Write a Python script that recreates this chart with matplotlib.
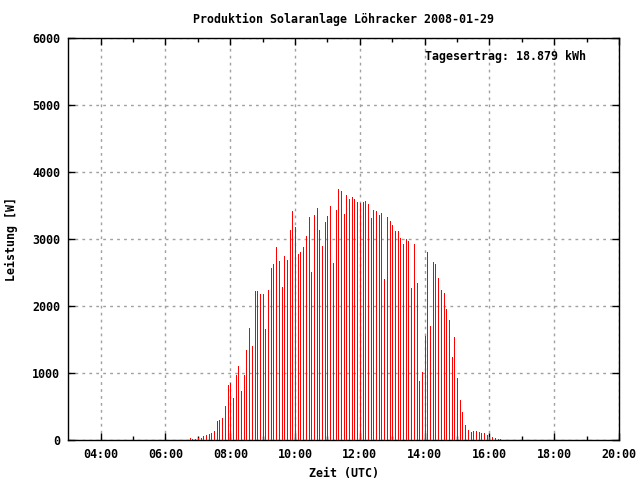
import numpy as np
import matplotlib.pyplot as plt

# Leistung alle 5 Minuten ab 06:45 UTC
start_h = 6.75
schritt_min = 5
leistung = [30, 10, 15, 30, 30, 60, 75, 90, 105, 135,
            285, 300, 330, 510, 820, 845, 625, 970, 1105, 730,
            970, 1345, 1676, 1410, 2224, 2224, 2179, 2179, 1657, 2239,
            2567, 2627, 2881, 2672, 2284, 2746, 2687, 3134, 3418, 3179,
            2776, 2806, 2881, 3045, 3328, 2507, 3358, 3463, 3134, 2896,
            3254, 3343, 3493, 2642, 3433, 3746, 3716, 3373, 3657, 3597,
            3627, 3597, 3552, 3537, 3552, 3567, 3522, 3313, 3433, 3418,
            3358, 3388, 2403, 3328, 3269, 3209, 3119, 3119, 3015, 2925,
            3000, 2970, 2269, 2925, 2343, 880, 1020, 1552, 2806, 1701,
            2657, 2627, 2418, 2239, 2194, 1955, 1791, 1239, 1537, 925,
            600, 420, 220, 150, 120, 135, 135, 120, 110, 100,
            80, 50, 40, 25, 20, 10]
x_ticks = [4, 6, 8, 10, 12, 14, 16, 18, 20]
x_labels = ['04:00', '06:00', '08:00', '10:00', '12:00', '14:00', '16:00', '18:00', '20:00']
y_ticks = [0, 1000, 2000, 3000, 4000, 5000, 6000]

titel = 'Produktion Solaranlage Löhracker 2008-01-29'
ertrag = 'Tagesertrag: 18.879 kWh'

zeit = start_h + np.arange(len(leistung)) * schritt_min / 60.0

plt.rcParams['font.family'] = 'DejaVu Sans Mono'
plt.rcParams['font.weight'] = 'bold'
plt.rcParams['axes.labelweight'] = 'bold'
plt.rcParams['font.size'] = 8.4

fig = plt.figure(figsize=(6.4, 4.8), dpi=100)
ax = fig.add_axes([68.3 / 640, 40 / 480, 550.7 / 640, 402 / 480])

ax.vlines(zeit, 0, leistung, color='#ff0000', lw=0.7, antialiased=False, zorder=3)

ax.set_xlim(3, 20)
ax.set_ylim(0, 6000)
ax.set_xticks(x_ticks)
ax.set_xticklabels(x_labels)
ax.set_xticks([5, 7, 9, 11, 13, 15, 17, 19], minor=True)
ax.set_yticks(y_ticks)
ax.tick_params(which='both', direction='in', top=True, right=True, length=5, width=1, pad=6)
ax.tick_params(which='minor', length=3)
ax.grid(True, which='major', color='#a0a0a0', linestyle=(0, (2, 3)), lw=1, zorder=0)
ax.set_axisbelow(True)
for s in ax.spines.values():
    s.set_linewidth(1)

ax.set_title(titel, fontsize=8.4, fontweight='bold', pad=11)
ax.set_xlabel('Zeit (UTC)', labelpad=4)
ax.set_ylabel('Leistung [W]', labelpad=10)
ax.text(0.648, 0.955, ertrag, transform=ax.transAxes, ha='left', va='center')

fig.savefig('out.png', dpi=100)
